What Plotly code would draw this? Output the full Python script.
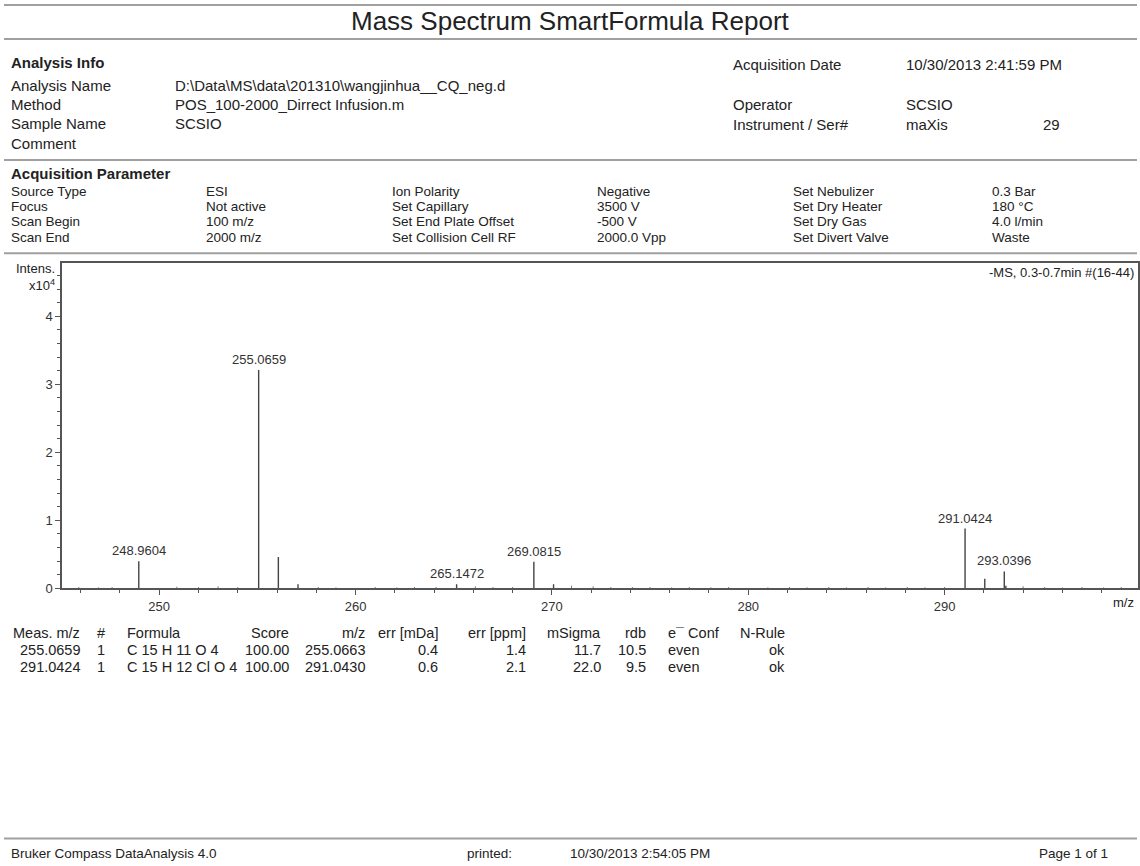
import plotly.graph_objects as go

W, H = 1140, 866
FONT = "Liberation Sans, Arial, sans-serif"
TXT = "#222222"
YS = 1.01  # vertical calibration of measured pixel rows

# ---------------- data ----------------
peak_mz = [248.9604, 255.0659, 256.069, 257.07, 265.1472, 269.0815, 270.085,
           291.0424, 292.046, 293.0396, 293.12]
peak_int = [0.40, 3.21, 0.46, 0.06, 0.06, 0.39, 0.06, 0.88, 0.14, 0.25, 0.04]
label_mz = [248.9604, 255.0659, 265.1472, 269.0815, 291.0424, 293.0396]
label_int = [0.40, 3.21, 0.06, 0.39, 0.88, 0.25]
label_txt = ["248.9604", "255.0659", "265.1472", "269.0815", "291.0424", "293.0396"]

noise_mz = [245.9, 246.9, 247.6, 250.9, 252.0, 253.0, 254.0, 258.1, 259.0, 261.0,
            262.1, 263.0, 264.1, 266.1, 267.0, 268.0, 271.0, 272.1, 273.0, 274.1,
            275.0, 276.1, 277.0, 278.1, 279.0, 281.0, 282.1, 283.0, 284.1, 285.0,
            286.1, 287.0, 288.1, 289.0, 290.0, 294.0, 295.1, 296.0, 297.0, 298.1, 299.0]
noise_int = [0.02, 0.015, 0.02, 0.025, 0.02, 0.03, 0.02, 0.02, 0.015, 0.02,
             0.015, 0.02, 0.02, 0.03, 0.02, 0.02, 0.04, 0.03, 0.02, 0.02,
             0.02, 0.015, 0.02, 0.015, 0.02, 0.015, 0.02, 0.015, 0.02, 0.015,
             0.02, 0.015, 0.02, 0.015, 0.02, 0.03, 0.02, 0.015, 0.02, 0.015, 0.02]

x_range = [245.05, 299.85]
y_range = [0, 4.78]

info_left = [("Analysis Name", "D:\\Data\\MS\\data\\201310\\wangjinhua__CQ_neg.d"),
             ("Method", "POS_100-2000_Dirrect Infusion.m"),
             ("Sample Name", "SCSIO"),
             ("Comment", None)]
info_right = [("Acquisition Date", "10/30/2013 2:41:59 PM"),
              ("Operator", "SCSIO"),
              ("Instrument / Ser#", "maXis")]
acq_params = [
    ["Source Type", "ESI", "Ion Polarity", "Negative", "Set Nebulizer", "0.3 Bar"],
    ["Focus", "Not active", "Set Capillary", "3500 V", "Set Dry Heater", "180 °C"],
    ["Scan Begin", "100 m/z", "Set End Plate Offset", "-500 V", "Set Dry Gas", "4.0 l/min"],
    ["Scan End", "2000 m/z", "Set Collision Cell RF", "2000.0 Vpp", "Set Divert Valve", "Waste"],
]
table_header = ["Meas. m/z", "#", "Formula", "Score", "m/z", "err [mDa]", "err [ppm]",
                "mSigma", "rdb", "e¯ Conf", "N-Rule"]
table_rows = [
    ["255.0659", "1", "C 15 H 11 O 4", "100.00", "255.0663", "0.4", "1.4", "11.7", "10.5", "even", "ok"],
    ["291.0424", "1", "C 15 H 12 Cl O 4", "100.00", "291.0430", "0.6", "2.1", "22.0", "9.5", "even", "ok"],
]

# ---------------- figure ----------------
def px(x):
    return x / W

def py(y):
    return 1 - y * YS / H

fig = go.Figure()

sx, sy = [], []
for m, h in zip(noise_mz, noise_int):
    sx += [m, m, None]
    sy += [0, h, None]
fig.add_trace(go.Scatter(x=sx, y=sy, mode="lines", line=dict(color="#777777", width=1),
                         hoverinfo="skip", showlegend=False))
pkx, pky = [], []
for m, h in zip(peak_mz, peak_int):
    pkx += [m, m, None]
    pky += [0, h, None]
fig.add_trace(go.Scatter(x=pkx, y=pky, mode="lines", line=dict(color="#444444", width=1.4),
                         hoverinfo="skip", showlegend=False))

ann = []

def text(x, y, s, size=15, anchor="left", bold=False, family=FONT, color=TXT):
    if bold:
        s = "<b>" + s + "</b>"
    ann.append(dict(xref="paper", yref="paper", x=px(x), y=py(y), text=s, showarrow=False,
                    xanchor=anchor, yanchor="middle", font=dict(size=size, family=family, color=color)))

# peak labels
for m, h, t in zip(label_mz, label_int, label_txt):
    ann.append(dict(x=m, y=h, xref="x", yref="y", text=t, showarrow=False, yanchor="bottom",
                    xanchor="center", yshift=1, font=dict(size=13, family=FONT, color="#333333")))

# title
text(570, 20.5, "Mass Spectrum SmartFormula Report", size=26, anchor="center")

# analysis info
text(9, 62, "Analysis Info", size=15, bold=True)
for i, (k, v) in enumerate(info_left):
    yy = 85 + i * 19.4
    text(9, yy, k)
    if v:
        text(173, yy, v)
right_y = [64, 104, 124]
for (k, v), yy in zip(info_right, right_y):
    text(731, yy, k)
    text(904, yy, v)
text(1062, 124, "29", anchor="right")

# acquisition parameters
text(9, 173, "Acquisition Parameter", size=15, bold=True)
col_x = [9, 204, 390, 595, 791, 990]
for r, row in enumerate(acq_params):
    yy = 191 + r * 15.3
    for c, s in enumerate(row):
        text(col_x[c], yy, s, size=13.5)

# plot extra labels
text(57, 268, "Intens.", size=13, anchor="right")
text(57, 285, "x10<sup>4</sup>", size=13, anchor="right")
text(1136, 272, "-MS, 0.3-0.7min #(16-44)", size=13, anchor="right")
text(1136, 602, "m/z", size=13, anchor="right")

# results table
col_pos = [(82, "right"), (107, "right"), (125, "left"), (291, "right"), (367, "right"),
           (440, "right"), (528, "right"), (603, "right"), (648, "right"), (666, "left"),
           (787, "right")]
for c, s in enumerate(table_header):
    text(col_pos[c][0], 633, s, size=14.5, anchor=col_pos[c][1])
for r, row in enumerate(table_rows):
    for c, s in enumerate(row):
        text(col_pos[c][0], 650 + r * 16.3, s, size=14.5, anchor=col_pos[c][1])

# footer
text(9, 853, "Bruker Compass DataAnalysis 4.0", size=13.5)
text(465, 853, "printed:", size=13.5)
text(568, 853, "10/30/2013 2:54:05 PM", size=13.5)
text(1037, 853, "Page 1 of 1", size=13.5)

shapes = []
for yy in [5, 39, 160, 253, 838]:
    shapes.append(dict(type="line", xref="paper", yref="paper", x0=px(4), x1=px(1137),
                       y0=py(yy), y1=py(yy), line=dict(color="#a0a0a0", width=2)))

fig.update_layout(
    width=W, height=H, margin=dict(l=0, r=0, t=0, b=0),
    paper_bgcolor="white", plot_bgcolor="white",
    annotations=ann, shapes=shapes, showlegend=False, hovermode=False,
    xaxis=dict(domain=[px(62), px(1138)], range=x_range, showgrid=False, zeroline=False,
               showline=True, linecolor="#555555", linewidth=1.5, mirror=True,
               ticks="outside", ticklen=5, tickcolor="#555555", tick0=250, dtick=10,
               tickfont=dict(size=13, family=FONT, color="#333333"),
               minor=dict(dtick=2, tick0=250, ticks="outside", ticklen=3, tickcolor="#555555")),
    yaxis=dict(domain=[py(588), py(263)], range=y_range, showgrid=False, zeroline=False,
               showline=True, linecolor="#555555", linewidth=1.5, mirror=True,
               ticks="outside", ticklen=5, tickcolor="#555555", tick0=0, dtick=1,
               tickfont=dict(size=13, family=FONT, color="#333333"),
               minor=dict(dtick=0.2, ticks="outside", ticklen=3, tickcolor="#555555")),
)

fig.write_html("out.html", config={"displayModeBar": False},
               post_script="document.body.style.margin='0px';")
